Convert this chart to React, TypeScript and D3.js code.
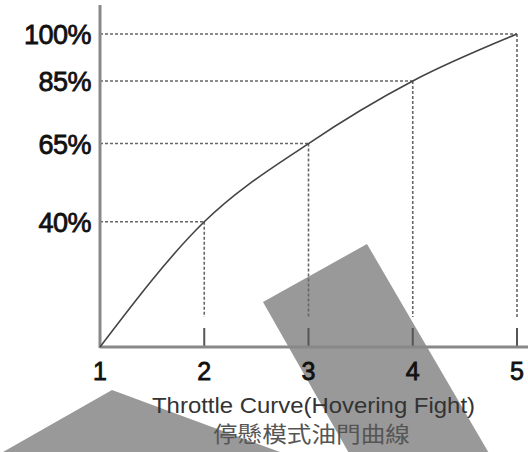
import React from "react";
import * as d3 from "d3";

const stages = [1, 2, 3, 4, 5];
const throttle = [0, 40, 65, 85, 100];
const yTickValues = [40, 65, 85, 100];
const yTickLabels = ["40%", "65%", "85%", "100%"];
const xTitle = "Throttle Curve(Hovering Fight)";
const xTitleZh = "停懸模式油門曲線";

const W = 528;
const H = 452;

export default function App() {
  const x = d3.scaleLinear().domain([1, 5]).range([100, 517]);
  const y = d3.scaleLinear().domain([0, 100]).range([347, 34]);
  const data = stages.map((s, i) => ({ s, v: throttle[i] }));
  const line = d3
    .line<{ s: number; v: number }>()
    .x((d) => x(d.s))
    .y((d) => y(d.v))
    .curve(d3.curveMonotoneX);
  const axisY = y(0);

  return (
    <svg
      width={W}
      height={H}
      style={{ position: "absolute", left: 0, top: 0, background: "#fff" }}
    >
      {/* grey overlay shapes (behind) */}
      <polygon points="3,452 112,390 280,452" fill="#999" />
      <polygon points="263,302 367,244 490,455 350,455" fill="#999" />

      {/* dotted guides */}
      {data.slice(1).map((d, i) => (
        <g key={i}>
          <line
            x1={x(1)}
            x2={x(d.s)}
            y1={y(d.v)}
            y2={y(d.v)}
            stroke="#666"
            strokeWidth={1.6}
            strokeDasharray="3,2"
          />
          <line
            x1={x(d.s)}
            x2={x(d.s)}
            y1={y(d.v)}
            y2={317}
            stroke="#666"
            strokeWidth={1.6}
            strokeDasharray="3,2"
          />
          <line
            x1={x(d.s)}
            x2={x(d.s)}
            y1={328}
            y2={axisY}
            stroke="#555"
            strokeWidth={2}
          />
        </g>
      ))}

      {/* axes */}
      <line x1={x(1)} x2={x(1)} y1={5} y2={axisY + 1} stroke="#888" strokeWidth={3} />
      <line x1={x(1)} x2={W} y1={axisY} y2={axisY} stroke="#888" strokeWidth={3} />

      {/* curve */}
      <path d={line(data) || ""} fill="none" stroke="#444" strokeWidth={1.6} />

      {/* y labels */}
      {yTickValues.map((v, i) => (
        <text
          key={v}
          x={91}
          y={y(v) + 10}
          textAnchor="end"
          fontFamily="Liberation Sans, Arial, sans-serif"
          fontSize={27}
          letterSpacing={-0.5}
          fill="#111"
          stroke="#111"
          strokeWidth={0.8}
        >
          {yTickLabels[i]}
        </text>
      ))}

      {/* x labels */}
      {stages.map((s) => (
        <text
          key={s}
          x={x(s)}
          y={380}
          textAnchor="middle"
          fontFamily="Liberation Sans, Arial, sans-serif"
          fontSize={25}
          fill="#111"
          stroke="#111"
          strokeWidth={0.8}
        >
          {s}
        </text>
      ))}

      <text
        x={152}
        y={413}
        fontFamily="Liberation Sans, Arial, sans-serif"
        fontSize={22}
        textLength={323}
        lengthAdjust="spacingAndGlyphs"
        fill="#333"
      >
        {xTitle}
      </text>
      <text
        x={213}
        y={442}
        fontFamily="Noto Sans CJK TC, sans-serif"
        fontSize={22}
        textLength={197}
        lengthAdjust="spacingAndGlyphs"
        fill="#555"
      >
        {xTitleZh}
      </text>
    </svg>
  );
}
